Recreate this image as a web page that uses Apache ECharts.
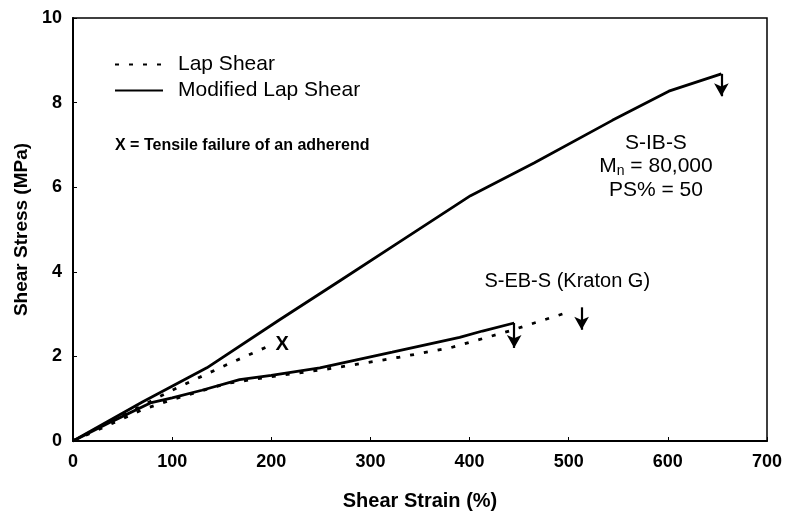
<!DOCTYPE html>
<html><head><meta charset="utf-8">
<script src="https://cdn.jsdelivr.net/npm/echarts@6/dist/echarts.min.js"></script>
<style>html,body{margin:0;padding:0;background:#fff}#c{width:788px;height:516px}</style>
</head><body><div id="c"></div>
<script>
// Axis settings
const xMin = 0, xMax = 700, xStep = 100;
const yMin = 0, yMax = 10, yStep = 2;

// S-IB-S, Modified Lap Shear (solid)
const sibsModX = [0, 70, 135, 208, 270, 329, 401, 465, 544, 601, 654];
const sibsModY = [0, 0.92, 1.73, 2.86, 3.8, 4.7, 5.8, 6.57, 7.58, 8.27, 8.68];
// S-IB-S, Lap Shear (dotted, ends at X)
const sibsLapX = [0, 60, 100, 150, 195];
const sibsLapY = [0, 0.72, 1.2, 1.75, 2.22];
// S-EB-S (Kraton G), Modified Lap Shear (solid)
const sebsModX = [0, 40, 78, 100, 130, 168, 200, 249, 322, 390, 413, 445];
const sebsModY = [0, 0.47, 0.9, 1.02, 1.2, 1.45, 1.55, 1.73, 2.1, 2.45, 2.6, 2.79];
// S-EB-S (Kraton G), Lap Shear (dotted)
const sebsLapX = [0, 40, 70, 100, 155, 200, 262, 329, 380, 440, 500];
const sebsLapY = [0, 0.42, 0.74, 0.98, 1.36, 1.52, 1.72, 1.98, 2.2, 2.6, 3.05];

// Failure arrows: [x, yStart, yEnd]
const arrowSibsMod = [654, 8.68, 8.15];
const arrowSebsMod = [445, 2.79, 2.2];
const arrowSebsLap = [513, 3.16, 2.63];

// Text annotations (anchor in data coords)
const labelX = {text: 'X', x: 211, y: 2.28};
const labelSibs = {x: 588, lines: [7.03, 6.5, 5.94]};
const labelSebs = {text: 'S-EB-S (Kraton G)', x: 415, y: 3.76};
const noteText = 'X = Tensile failure of an adherend';

const FONT = "'Liberation Sans', Arial, Helvetica, sans-serif";
const zip = (xs, ys) => xs.map((x, i) => [x, ys[i]]);

function arrowLine(a) {
  return {
    silent: true,
    symbol: ['none', 'arrow'],
    symbolSize: [11, 13],
    label: {show: false},
    lineStyle: {type: 'solid', width: 2.2, color: '#000'},
    data: [[{coord: [a[0], a[1]]}, {coord: [a[0], a[2]]}]]
  };
}

const dotted = {color: '#000', width: 2.8, type: [4, 10]};
const solid = {color: '#000', width: 2.8, type: 'solid'};

const chart = echarts.init(document.getElementById('c'), null, {renderer: 'canvas'});
chart.setOption({
  animation: false,
  backgroundColor: '#fff',
  textStyle: {fontFamily: FONT, color: '#000'},
  grid: {left: 73, right: 21, top: 18, bottom: 64, show: true, borderColor: '#000', borderWidth: 1.5},
  legend: {
    orient: 'vertical', left: 114, top: 54, padding: 0,
    itemWidth: 48, itemHeight: 14, itemGap: 5,
    data: ['Lap Shear', 'Modified Lap Shear'],
    itemStyle: {opacity: 0},
    textStyle: {fontSize: 21, color: '#000', fontFamily: FONT, padding: [0, 0, 0, 10]}
  },
  xAxis: {
    type: 'value', min: xMin, max: xMax, interval: xStep,
    name: 'Shear Strain (%)', nameLocation: 'middle', nameGap: 50,
    nameTextStyle: {fontSize: 20, fontWeight: 'bold', color: '#000', fontFamily: FONT},
    axisLine: {lineStyle: {color: '#000', width: 2}},
    axisTick: {inside: true, length: 4, lineStyle: {color: '#000'}},
    axisLabel: {fontSize: 18, fontWeight: 'bold', color: '#000', margin: 12, fontFamily: FONT},
    splitLine: {show: false}
  },
  yAxis: {
    type: 'value', min: yMin, max: yMax, interval: yStep,
    name: 'Shear Stress (MPa)', nameLocation: 'middle', nameGap: 40, nameRotate: 90,
    nameTextStyle: {fontSize: 19, fontWeight: 'bold', color: '#000', fontFamily: FONT},
    axisLine: {lineStyle: {color: '#000', width: 2}},
    axisTick: {inside: true, length: 4, lineStyle: {color: '#000'}},
    axisLabel: {fontSize: 18, fontWeight: 'bold', color: '#000', margin: 11, fontFamily: FONT},
    splitLine: {show: false}
  },
  series: [
    {name: 'Lap Shear', type: 'line', symbol: 'none', lineStyle: dotted, itemStyle: {color: '#000'},
     data: zip(sibsLapX, sibsLapY)},
    {name: 'Modified Lap Shear', type: 'line', symbol: 'none', lineStyle: solid, itemStyle: {color: '#000'},
     data: zip(sibsModX, sibsModY), markLine: arrowLine(arrowSibsMod)},
    {name: 'Lap Shear', type: 'line', symbol: 'none', lineStyle: dotted, itemStyle: {color: '#000'},
     data: zip(sebsLapX, sebsLapY), markLine: arrowLine(arrowSebsLap)},
    {name: 'Modified Lap Shear', type: 'line', symbol: 'none', lineStyle: solid, itemStyle: {color: '#000'},
     data: zip(sebsModX, sebsModY), markLine: arrowLine(arrowSebsMod)}
  ]
});

function px(x, y) { return chart.convertToPixel({gridIndex: 0}, [x, y]); }
const pX = px(labelX.x, labelX.y);
const pS = labelSibs.lines.map(y => px(labelSibs.x, y));
const pE = px(labelSebs.x, labelSebs.y);

chart.setOption({
  graphic: [
    {type: 'text', x: pX[0], y: pX[1], style: {text: labelX.text, font: 'bold 20px ' + FONT, fill: '#000', align: 'center', verticalAlign: 'middle'}},
    {type: 'text', x: pS[0][0], y: pS[0][1], style: {text: 'S-IB-S', font: '21px ' + FONT, fill: '#000', align: 'center', verticalAlign: 'middle'}},
    {type: 'text', x: pS[1][0], y: pS[1][1], style: {
      text: '{m|M}{n|n}{m| = 80,000}', align: 'center', verticalAlign: 'middle',
      rich: {m: {font: '21px ' + FONT, fill: '#000', lineHeight: 24}, n: {font: '14px ' + FONT, fill: '#000', lineHeight: 10, verticalAlign: 'bottom'}}
    }},
    {type: 'text', x: pS[2][0], y: pS[2][1], style: {text: 'PS% = 50', font: '21px ' + FONT, fill: '#000', align: 'center', verticalAlign: 'middle'}},
    {type: 'text', x: pE[0], y: pE[1], style: {text: labelSebs.text, font: '20px ' + FONT, fill: '#000', align: 'left', verticalAlign: 'middle'}},
    {type: 'text', left: 115, top: 138, style: {text: noteText, font: 'bold 16px ' + FONT, fill: '#000'}}
  ]
});
</script>
</body></html>
